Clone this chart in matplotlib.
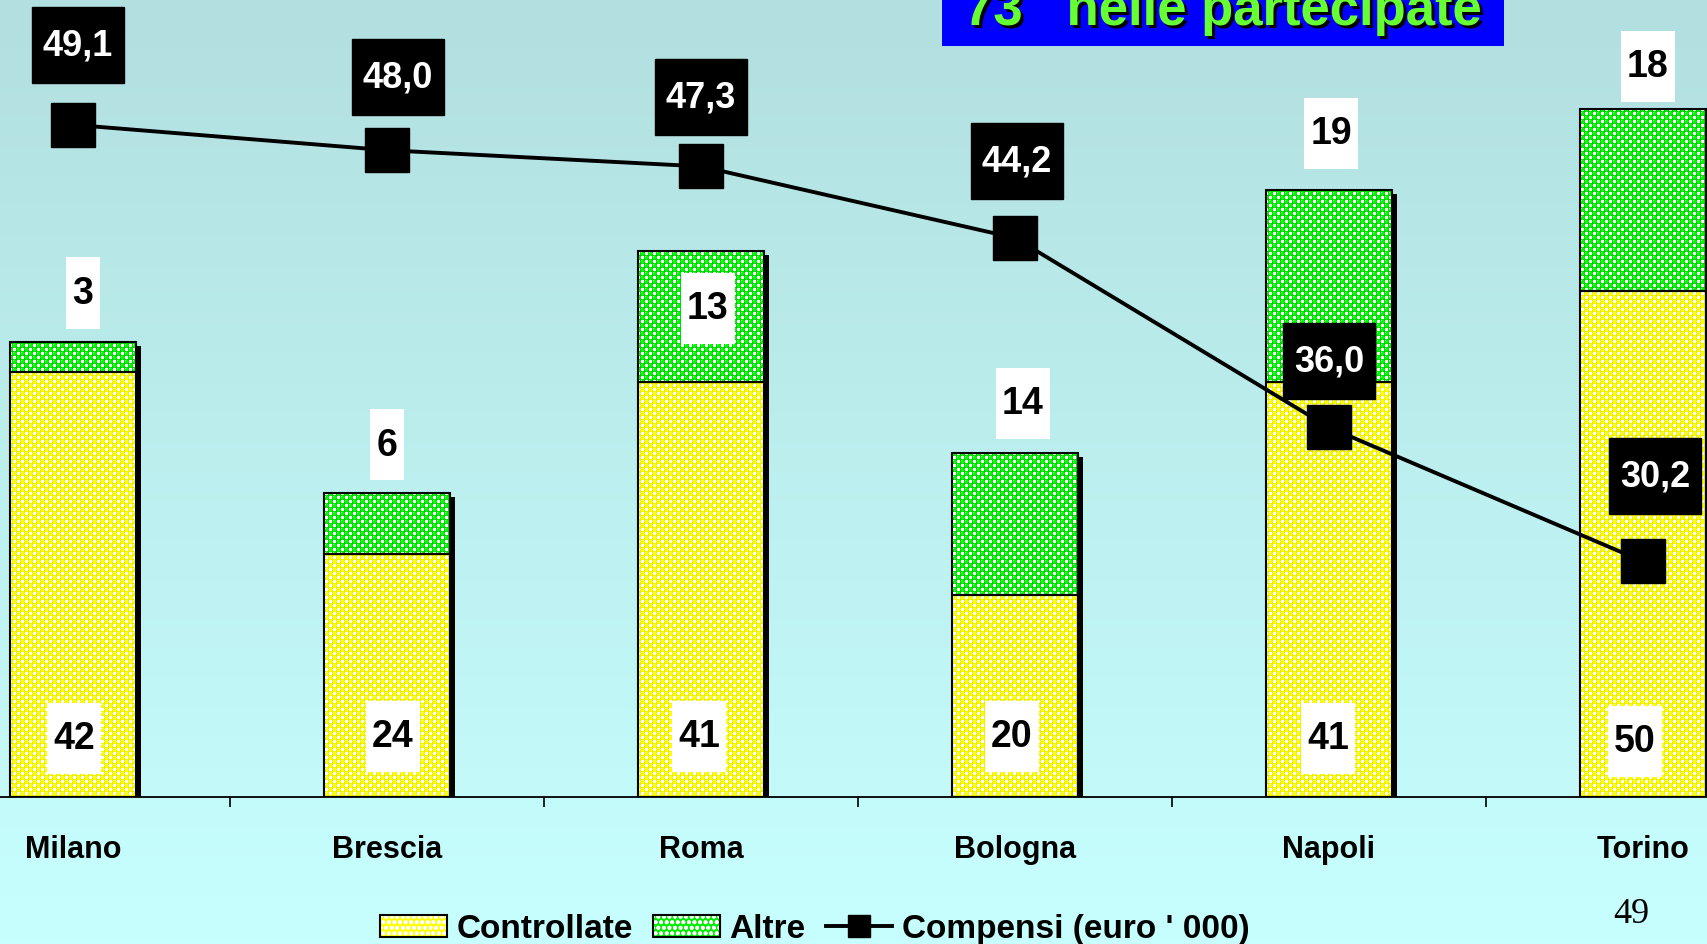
import numpy as np
import matplotlib
matplotlib.use("Agg")
import matplotlib.pyplot as plt
import matplotlib.transforms as mtransforms
from matplotlib.path import Path
from matplotlib.patches import Patch, Rectangle
from matplotlib.lines import Line2D

# ---------------- data ----------------
cities = ["Milano", "Brescia", "Roma", "Bologna", "Napoli", "Torino"]
controllate = [42, 24, 41, 20, 41, 50]
altre = [3, 6, 13, 14, 19, 18]
compensi = [49.1, 48.0, 47.3, 44.2, 36.0, 30.2]
legend_labels = ["Controllate", "Altre", "Compensi (euro ' 000)"]
title_text = "73   nelle partecipate"
page_number = "49"

# ---------------- layout (pixels of the 1708x945 canvas) ----------------
W, H, DPI = 1708, 945, 100
def pt(px):
    return px * 72.0 / DPI

plt.rcParams["font.family"] = ["Liberation Sans", "DejaVu Sans"]
plt.rcParams["hatch.color"] = "white"
plt.rcParams["hatch.linewidth"] = 1.2

fig = plt.figure(figsize=(W / DPI, H / DPI), dpi=DPI)

# background gradient
bg = fig.add_axes([0, 0, 1, 1], zorder=-10)
top_c = np.array([178, 223, 223]) / 255.0
bot_c = np.array([199, 255, 255]) / 255.0
t = np.linspace(0, 1, 256)[:, None, None]
grad = top_c[None, None, :] * (1 - t) + bot_c[None, None, :] * t
bg.imshow(grad, aspect="auto", extent=(0, 1, 0, 1))
bg.axis("off")

# main axes geometry
ax_left_px, ax_right_px = -84, 1800
base_px = 798
ax_h_px = base_px
ax = fig.add_axes([ax_left_px / W, (H - base_px) / H,
                   (ax_right_px - ax_left_px) / W, ax_h_px / H])
ax.patch.set_visible(False)
y1_max = ax_h_px / 10.12
y2_min = 20.0
y2_max = y2_min + ax_h_px / 23.1
x = np.arange(len(cities))
ax.set_xlim(-0.5, len(cities) - 0.5)
ax.set_ylim(0, y1_max)

bw = 0.40
tops = [c + a for c, a in zip(controllate, altre)]

# shadows
shadow_tr = ax.transData + mtransforms.ScaledTranslation(5 / DPI, -4 / DPI, fig.dpi_scale_trans)
ax.bar(x, tops, bw, color="black", zorder=1, transform=shadow_tr)

# textures
def make_texture(hgt, wid, core, rim, light, p=8.0, r=3.0):
    yy, xx = np.mgrid[0:hgt, 0:wid].astype(float)
    def rel(c):
        dx = ((xx - c) + p / 2) % p - p / 2
        dy = ((yy - c) + p / 2) % p - p / 2
        return dx, dy
    dx1, dy1 = rel(2.0)
    dx2, dy2 = rel(2.0 + p / 2)
    d1 = np.hypot(dx1, dy1)
    d2 = np.hypot(dx2, dy2)
    use1 = d1 <= d2
    dx = np.where(use1, dx1, dx2)
    dy = np.where(use1, dy1, dy2)
    d = np.minimum(d1, d2)
    img = np.ones((hgt, wid, 3))
    inside = d < r
    img[inside] = core
    img[inside & (d > r - 1.0)] = rim
    hl = np.hypot(dx + 0.8, dy + 0.8) < 0.8
    img[inside & hl] = light
    return img

tex_h, tex_w = ax_h_px, ax_right_px - ax_left_px
yellow_tex = make_texture(tex_h, tex_w, np.array([1.0, 1.0, 0.0]),
                          np.array([0.93, 0.93, 0.0]), np.array([1.0, 1.0, 0.75]))
green_tex = make_texture(tex_h, tex_w, np.array([0.0, 1.0, 0.0]),
                         np.array([0.0, 0.80, 0.0]), np.array([0.7, 1.0, 0.7]))

# outlines (drawn through the axes scale)
bars_c = ax.bar(x, controllate, bw, facecolor="none", edgecolor="black", lw=1.5, zorder=4)
bars_a = ax.bar(x, altre, bw, bottom=controllate, facecolor="none", edgecolor="black", lw=1.5, zorder=4)

def clip_path_from(bars):
    paths = []
    for b in bars:
        bb = b.get_bbox()
        verts = [(bb.x0, bb.y0), (bb.x1, bb.y0), (bb.x1, bb.y1), (bb.x0, bb.y1), (bb.x0, bb.y0)]
        paths.append(Path(verts, [Path.MOVETO, Path.LINETO, Path.LINETO, Path.LINETO, Path.CLOSEPOLY]))
    return Path.make_compound_path(*paths)

ext = (-0.5, len(cities) - 0.5, 0, y1_max)
for tex, bars in ((yellow_tex, bars_c), (green_tex, bars_a)):
    im = ax.imshow(tex, extent=ext, aspect="auto", interpolation="nearest", zorder=2, origin="upper")
    im.set_clip_path(clip_path_from(bars), transform=ax.transData)
ax.set_xlim(-0.5, len(cities) - 0.5)
ax.set_ylim(0, y1_max)

# custom box styles
def box_style(padx, boxh):
    def _style(x0, y0, width, height, mutation_size):
        cx = x0 + width / 2.0
        cy = y0 + height / 2.0
        w2 = width / 2.0 + padx * mutation_size
        h2 = boxh * mutation_size / 2.0
        return Path([(cx - w2, cy - h2), (cx + w2, cy - h2), (cx + w2, cy + h2),
                     (cx - w2, cy + h2), (cx - w2, cy - h2)],
                    [Path.MOVETO, Path.LINETO, Path.LINETO, Path.LINETO, Path.CLOSEPOLY])
    return _style

white_box = dict(boxstyle=box_style(0.17, 1.9), fc="white", ec="none")
black_box = dict(boxstyle=box_style(0.30, 2.1), fc="black", ec="black")

# bar value labels
bottom_label_y = [5.8, 6.0, 6.0, 6.0, 5.8, 5.5]
bottom_label_dx = [1, 6, -2, -3, -1, -8]
top_label_off = [4.8, 4.8, -5.7, 4.9, 5.6, 4.2]
top_label_dx = [10, 0, 7, 8, 2, 5]
for i in range(len(cities)):
    ax.annotate(str(controllate[i]), xy=(x[i], bottom_label_y[i]),
                xytext=(pt(bottom_label_dx[i]), 0), textcoords="offset points",
                ha="center", va="center", fontsize=27, fontweight="bold",
                color="black", bbox=white_box, zorder=6)
    ax.annotate(str(altre[i]), xy=(x[i], tops[i] + top_label_off[i]),
                xytext=(pt(top_label_dx[i]), 0), textcoords="offset points",
                ha="center", va="center", fontsize=27, fontweight="bold",
                color="black", bbox=white_box, zorder=6, annotation_clip=False)

# line on secondary axis
ax2 = ax.twinx()
ax2.set_ylim(y2_min, y2_max)
ax2.patch.set_visible(False)
ax2.plot(x, compensi, color="black", lw=2.8, marker="s", markersize=pt(44), zorder=5)
line_dx = [5, 11, 0, 2, 0, 12]
line_dy = [80, 73, 69, 77, 66, 85]
for i, v in enumerate(compensi):
    ax2.annotate(f"{v:.1f}".replace(".", ","), xy=(x[i], v),
                 xytext=(pt(line_dx[i]), pt(line_dy[i])), textcoords="offset points",
                 ha="center", va="center", fontsize=26, fontweight="bold",
                 color="white", bbox=black_box, zorder=6, annotation_clip=False)

# axes styling
for a in (ax, ax2):
    for s in ("top", "right", "left"):
        a.spines[s].set_visible(False)
    a.set_yticks([])
ax2.spines["bottom"].set_visible(False)
ax.spines["bottom"].set_linewidth(1.3)
ax.spines["bottom"].set_zorder(7)
ax.set_xticks(x)
ax.set_xticklabels(cities, fontsize=22, fontweight="bold")
ax.tick_params(axis="x", which="major", length=0, pad=26.5)
ax.set_xticks(x[:-1] + 0.5, minor=True)
ax.tick_params(axis="x", which="minor", length=pt(10), width=1.2, direction="out")

# legend
plt.rcParams["hatch.color"] = "white"
h_yellow = (Patch(facecolor="#ffff00", hatch="ooo", edgecolor=None, lw=0),
            Patch(facecolor="none", edgecolor="black", lw=1.5))
h_green = (Patch(facecolor="#00ee00", hatch="ooo", edgecolor=None, lw=0),
           Patch(facecolor="none", edgecolor="black", lw=1.5))
h_line = Line2D([], [], color="black", lw=2.8, marker="s", markersize=16)
fig.legend([h_yellow, h_green, h_line], legend_labels, loc="center",
           bbox_to_anchor=(815 / W, 1 - 930 / H), ncol=3, frameon=False,
           prop=dict(size=24, weight="bold"), handlelength=2.0, handleheight=0.65,
           handletextpad=0.3, columnspacing=0.6, borderpad=0)

# cropped title box (the reference shows it cut off at the top edge)
fig.add_artist(Rectangle((942 / W, 1 - 47 / H), (1504 - 942) / W, 47 / H + 0.02,
                         transform=fig.transFigure, facecolor="#0000ff", edgecolor="none", zorder=8))
fig.text(964 / W + 3 / W, 1 - 25 / H - 3 / H, title_text, fontsize=38, fontweight="bold",
         color="black", ha="left", va="baseline", zorder=9)
fig.text(964 / W, 1 - 25 / H, title_text, fontsize=38, fontweight="bold",
         color="#66ff33", ha="left", va="baseline", zorder=10)

# page number
fig.text(1631 / W, 1 - 915 / H, page_number, family=["Liberation Serif", "DejaVu Serif"],
         fontsize=26, ha="center", va="center")

fig.savefig("out.png", dpi=DPI)
